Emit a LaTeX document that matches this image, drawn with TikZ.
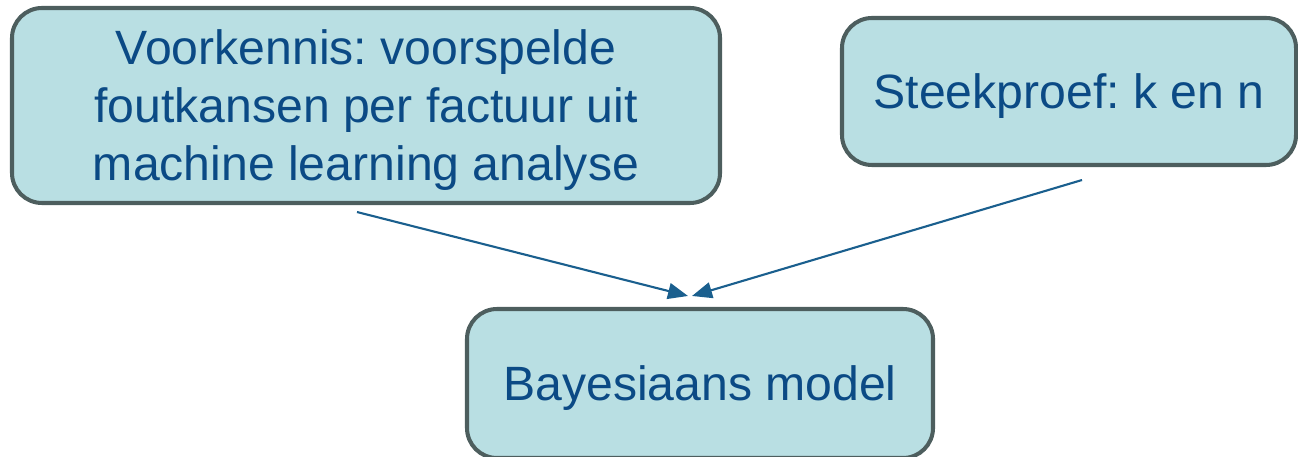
\documentclass[tikz,border=0pt]{standalone}
\usepackage{fontspec}
\setmainfont{Liberation Sans}
\usepackage{xcolor}
\usetikzlibrary{arrows.meta}
\definecolor{boxfill}{HTML}{B9DFE3}
\definecolor{boxline}{HTML}{4D5E5E}
\definecolor{boxtext}{HTML}{0B4A85}
\definecolor{pijl}{HTML}{1A5F8E}
\frenchspacing

\begin{document}
\begin{tikzpicture}[
  blok/.style={draw=boxline, fill=boxfill, line width=2.3pt, rounded corners=0.6cm,
    text=boxtext, align=center, inner sep=0pt, text depth=-0.03cm,
    font=\fontsize{27.4}{33}\selectfont},
  verbind/.style={draw=pijl, line width=1.2pt, -{Triangle[length=0.4cm,width=0.32cm]}}
]
\useasboundingbox (0,0) rectangle (25.96,9.12);
\node[blok, minimum width=14.16cm, minimum height=3.9cm] (voorkennis) at (7.32,7.01)
  {Voorkennis: voorspelde\\foutkansen per factuur uit\\machine learning analyse};
\node[blok, minimum width=9.08cm, minimum height=2.94cm] (steekproef) at (21.38,7.29)
  {Steekproef: k en n};
\node[blok, minimum width=9.32cm, minimum height=2.98cm] (model) at (14.0,1.45)
  {Bayesiaans model};
\draw[verbind] ([xshift=-0.18cm,yshift=-0.14cm]voorkennis.south) -- ([xshift=-0.24cm,yshift=0.22cm]model.north);
\draw[verbind] ([xshift=0.26cm,yshift=-0.26cm]steekproef.south) -- ([xshift=-0.16cm,yshift=0.22cm]model.north);
\end{tikzpicture}
\end{document}
